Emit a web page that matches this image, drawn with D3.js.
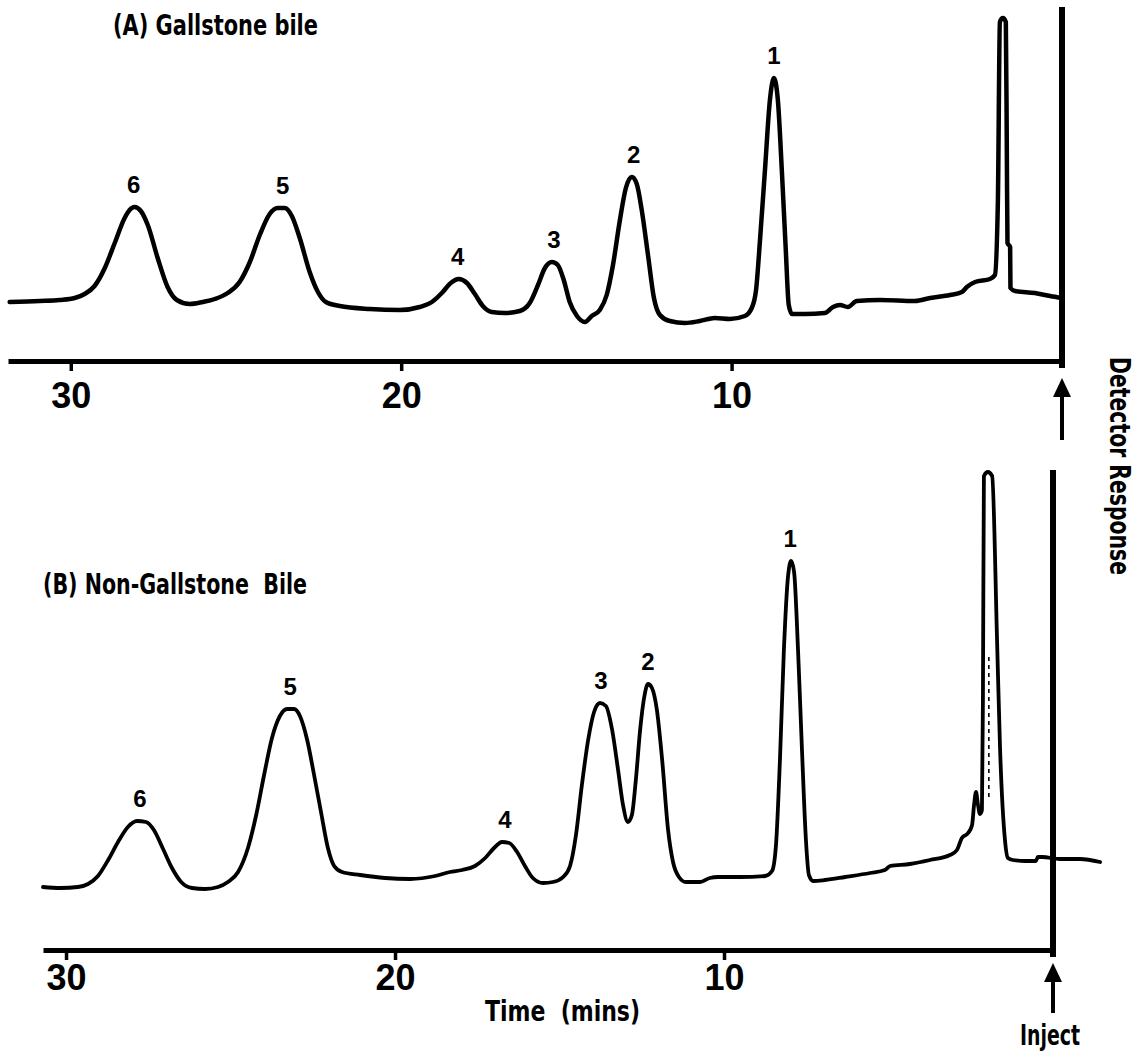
<!DOCTYPE html>
<html>
<head>
<meta charset="utf-8">
<script src="https://cdn.jsdelivr.net/npm/d3@7"></script>
<style>
  html, body { margin: 0; padding: 0; background: #fff; }
  svg { display: block; }
</style>
</head>
<body>
<div id="chart"></div>
<script>
// Bile chromatograms: gallstone vs non-gallstone bile
// Time runs right to left (injection at 0 on the right), response in arbitrary detector units

const tickMinutes = [30, 20, 10];

// (A) Gallstone bile trace
const gallTime = [31.85, 30.94, 30.34, 29.88, 29.58, 29.28, 28.97, 28.67, 28.37, 28.22,
  28.07, 27.88, 27.67, 27.37, 27.07, 26.79, 26.40, 26.01, 25.64, 25.25,
  24.89, 24.58, 24.28, 23.98, 23.74, 23.52, 23.31, 23.07, 22.77, 22.52,
  22.28, 21.86, 20.95, 20.04, 19.44, 19.07, 18.77, 18.50, 18.26, 18.01,
  17.77, 17.53, 17.26, 16.86, 16.41, 16.11, 15.86, 15.65, 15.44, 15.26,
  15.08, 14.90, 14.68, 14.44, 14.23, 13.99, 13.78, 13.59, 13.38, 13.20,
  13.02, 12.87, 12.72, 12.53, 12.35, 12.17, 11.87, 11.41, 10.96, 10.51,
  10.05, 9.60, 9.39, 9.26, 9.14, 8.99, 8.84, 8.72, 8.60, 8.48,
  8.36, 8.27, 8.17, 7.78, 7.18, 6.93, 6.72, 6.48, 6.21, 5.51,
  4.45, 3.99, 3.39, 3.03, 2.88, 2.63, 2.18, 2.03, 1.94, 1.88,
  1.79, 1.70, 1.67, 1.65, 1.57, 1.56, 1.42, 0.82, 0.36, 0.00];
const gallResp = [59, 60, 61, 63, 67, 75, 93, 118, 143, 151,
  154, 150, 136, 103, 74, 61, 57, 59, 62, 68,
  79, 99, 126, 147, 153, 153, 145, 123, 89, 69,
  59, 55, 52, 51, 54, 59, 68, 78, 82, 78,
  67, 55, 49, 48, 50, 58, 76, 93, 99, 96,
  81, 59, 45, 39, 45, 51, 66, 96, 141, 173,
  184, 177, 151, 106, 63, 46, 40, 38, 40, 43,
  42, 45, 53, 71, 121, 191, 261, 283, 261, 191,
  111, 56, 47, 47, 48, 54, 56, 54, 60, 61,
  60, 63, 66, 69, 74, 79, 82, 86, 161, 339,
  343, 339, 211, 118, 114, 73, 70, 68, 65, 63];

const gallPeakId = ['6', '5', '4', '3', '2', '1'];
const gallPeakTime = [28.10, 23.59, 18.29, 15.38, 12.96, 8.72];
const gallPeakResp = [154, 153, 82, 99, 184, 283];

// (B) Non-gallstone bile trace
const nonTime = [30.70, 30.18, 29.64, 29.33, 29.03, 28.72, 28.42, 28.12, 27.84, 27.57,
  27.33, 27.05, 26.78, 26.50, 26.17, 25.78, 25.38, 25.08, 24.77, 24.47,
  24.22, 23.98, 23.74, 23.50, 23.28, 23.07, 22.89, 22.67, 22.46, 22.25,
  22.04, 21.85, 21.61, 21.06, 20.30, 19.54, 18.78, 18.33, 17.96, 17.57,
  17.26, 16.99, 16.75, 16.53, 16.29, 16.05, 15.81, 15.50, 15.20, 14.89,
  14.68, 14.50, 14.32, 14.13, 13.95, 13.77, 13.59, 13.40, 13.22, 13.07,
  12.92, 12.80, 12.68, 12.55, 12.43, 12.31, 12.19, 12.04, 11.88, 11.70,
  11.55, 11.37, 11.16, 10.73, 10.43, 10.18, 9.51, 8.75, 8.54, 8.42,
  8.30, 8.18, 8.05, 7.96, 7.87, 7.75, 7.63, 7.51, 7.42, 7.29,
  6.93, 6.32, 5.56, 5.11, 4.95, 4.35, 3.74, 3.13, 2.92, 2.77,
  2.58, 2.46, 2.40, 2.34, 2.28, 2.22, 2.16, 2.13, 2.10, 1.98,
  1.85, 1.70, 1.61, 1.46, 1.37, 1.22, 0.85, 0.52, 0.46, 0.33,
  -0.21, -0.82, -1.43];
const nonResp = [63, 62, 63, 66, 74, 90, 108, 123, 129, 128,
  120, 101, 82, 68, 62, 61, 63, 68, 78, 102,
  135, 175, 212, 234, 241, 241, 234, 210, 175, 138,
  102, 84, 78, 75, 72, 71, 74, 78, 80, 84,
  92, 102, 108, 107, 98, 84, 72, 67, 68, 73,
  84, 115, 165, 210, 238, 247, 244, 220, 180, 145,
  128, 135, 170, 220, 252, 266, 262, 240, 190, 120,
  88, 73, 68, 68, 72, 73, 73, 74, 79, 105,
  190, 300, 375, 389, 378, 300, 200, 110, 75, 69,
  70, 73, 77, 80, 84, 86, 90, 95, 100, 112,
  117, 125, 145, 158, 145, 136, 140, 250, 474, 478,
  474, 309, 202, 110, 92, 90, 89, 89, 93, 93,
  91, 91, 88];

const nonPeakId = ['6', '5', '4', '3', '2', '1'];
const nonPeakTime = [27.75, 23.19, 16.66, 13.74, 12.31, 7.99];
const nonPeakResp = [129, 241, 108, 247, 266, 389];

// faint dotted pen mark inside the solvent front of (B)
const nonPenTime = [1.95, 1.95];
const nonPenResp = [153, 294];

const width = 1146, height = 1055;

const svg = d3.select('#chart').append('svg')
  .attr('width', width)
  .attr('height', height);

const boldFont = '"Liberation Sans", Arial, sans-serif';
const narrowFont = '"DejaVu Sans Condensed", "DejaVu Sans", sans-serif';

// condensed label text, squeezed to the width it has on the original figure
function narrowText(sel, size, len) {
  return sel
    .style('font-family', narrowFont)
    .style('font-weight', 'bold')
    .style('font-size', size + 'px')
    .style('white-space', 'pre')
    .attr('textLength', len)
    .attr('lengthAdjust', 'spacingAndGlyphs');
}

function drawPanel(cfg) {
  const g = svg.append('g');
  const x = cfg.x, y = cfg.y;

  // time axis
  const axis = d3.axisBottom(x)
    .tickValues(tickMinutes)
    .tickSize(10)
    .tickSizeOuter(0)
    .tickPadding(cfg.tickPad)
    .tickFormat(d3.format('d'));

  const ax = g.append('g')
    .attr('transform', `translate(0,${y(0)})`)
    .call(axis);
  ax.select('.domain').attr('stroke', '#000').attr('stroke-width', 5);
  ax.selectAll('.tick line').attr('stroke', '#000').attr('stroke-width', 3.5);
  ax.selectAll('.tick text')
    .attr('fill', '#000')
    .style('font-family', boldFont)
    .style('font-weight', 'bold')
    .style('font-size', '36px');

  // injection marker (vertical pen line at t = 0)
  g.append('line')
    .attr('x1', x(0)).attr('x2', x(0))
    .attr('y1', y(y.domain()[1]))
    .attr('y2', y(0) + 7)
    .attr('stroke', '#000')
    .attr('stroke-width', 6);

  // arrow under the inject line
  const ax0 = x(0), tip = y(0) + cfg.arrowGap;
  g.append('line')
    .attr('x1', ax0).attr('x2', ax0)
    .attr('y1', tip + 12).attr('y2', tip + cfg.arrowLen)
    .attr('stroke', '#000')
    .attr('stroke-width', 4);
  g.append('path')
    .attr('d', `M${ax0},${tip} L${ax0 - 9},${tip + 19} L${ax0 + 9},${tip + 19} Z`)
    .attr('fill', '#000');

  // detector trace
  const pts = cfg.time.map((t, i) => [t, cfg.resp[i]]);
  const line = d3.line()
    .x(d => x(d[0]))
    .y(d => y(d[1]))
    .curve(d3.curveMonotoneX);

  g.append('path')
    .datum(pts)
    .attr('d', line)
    .attr('fill', 'none')
    .attr('stroke', '#000')
    .attr('stroke-width', cfg.traceWidth)
    .attr('stroke-linejoin', 'round')
    .attr('stroke-linecap', 'round');

  if (cfg.penTime) {
    g.append('line')
      .attr('x1', x(cfg.penTime[0])).attr('x2', x(cfg.penTime[1]))
      .attr('y1', y(cfg.penResp[0])).attr('y2', y(cfg.penResp[1]))
      .attr('stroke', '#000')
      .attr('stroke-width', 1.6)
      .attr('stroke-dasharray', '4,4');
  }

  // peak numbers
  g.selectAll('.peak-label')
    .data(cfg.peakId)
    .enter()
    .append('text')
    .attr('class', 'peak-label')
    .attr('x', (d, i) => x(cfg.peakTime[i]))
    .attr('y', (d, i) => y(cfg.peakResp[i]) - 14)
    .attr('text-anchor', 'middle')
    .style('font-family', boldFont)
    .style('font-weight', 'bold')
    .style('font-size', '24px')
    .text(d => d);

  // panel title
  g.append('text')
    .attr('x', cfg.titleX)
    .attr('y', cfg.titleY)
    .call(narrowText, 28, cfg.titleLen)
    .text(cfg.title);
}

drawPanel({
  x: d3.scaleLinear().domain([0, 31.9]).range([1062, 8]),
  y: d3.scaleLinear().domain([0, 354]).range([361, 7]),
  time: gallTime, resp: gallResp,
  peakId: gallPeakId, peakTime: gallPeakTime, peakResp: gallPeakResp,
  traceWidth: 4.5,
  tickPad: 11,
  arrowGap: 17, arrowLen: 62,
  title: '(A) Gallstone bile', titleX: 113, titleY: 35, titleLen: 205
});

drawPanel({
  x: d3.scaleLinear().domain([0, 30.7]).range([1053, 43]),
  y: d3.scaleLinear().domain([0, 480]).range([950, 470]),
  time: nonTime, resp: nonResp,
  peakId: nonPeakId, peakTime: nonPeakTime, peakResp: nonPeakResp,
  penTime: nonPenTime, penResp: nonPenResp,
  traceWidth: 3.8,
  tickPad: 4,
  arrowGap: 13, arrowLen: 50,
  title: '(B) Non-Gallstone  Bile', titleX: 43, titleY: 594, titleLen: 264
});

// shared axis titles
svg.append('text')
  .attr('x', 485)
  .attr('y', 1021)
  .call(narrowText, 28, 155)
  .text('Time  (mins)');

svg.append('text')
  .attr('x', 1020)
  .attr('y', 1045)
  .call(narrowText, 28, 60)
  .text('Inject');

svg.append('text')
  .attr('transform', 'translate(1110,357) rotate(90)')
  .call(narrowText, 28, 218)
  .text('Detector Response');
</script>
</body>
</html>
